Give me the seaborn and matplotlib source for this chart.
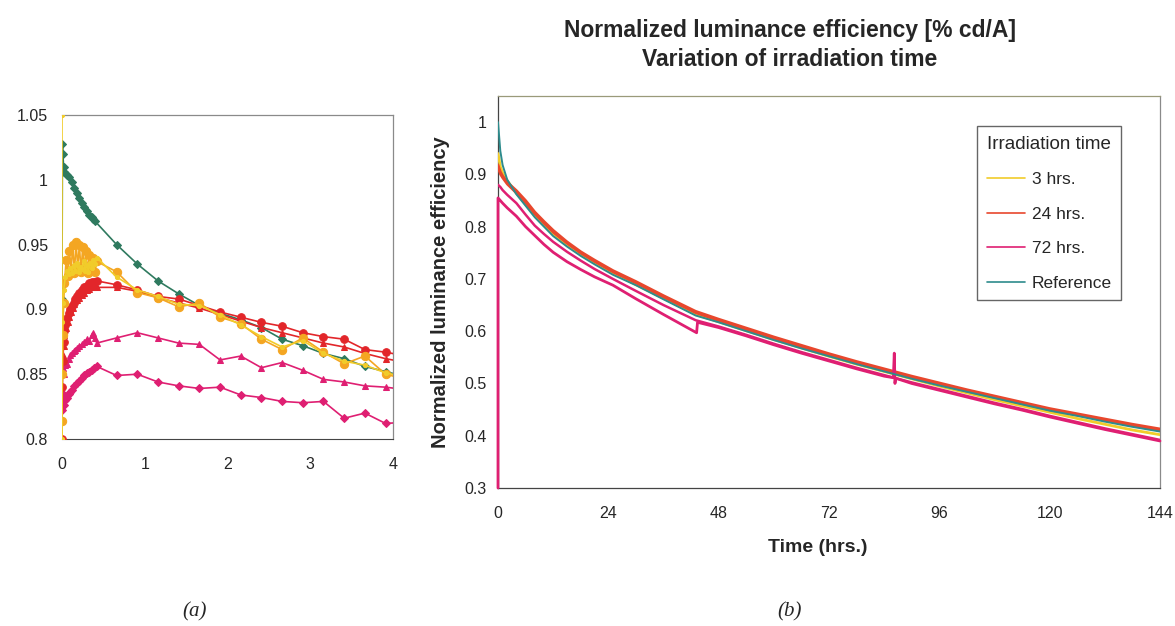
import matplotlib
matplotlib.use("Agg")
import matplotlib.pyplot as plt
import seaborn as sns
import pandas as pd
from matplotlib.ticker import FuncFormatter

sns.set_style("white")
plt.rcParams["font.family"] = ["Liberation Sans", "DejaVu Sans"]

# ---------------- Panel (a): first 4 hours ----------------
sparse_x = [0.66, 0.91, 1.16, 1.41, 1.66, 1.91, 2.16, 2.41, 2.66, 2.91, 3.16, 3.41, 3.66, 3.91, 4.16]

ref_a_x = [0, 0, 0.005, 0.01, 0.02, 0.03, 0.04, 0.06, 0.09, 0.12, 0.15, 0.18, 0.21, 0.24,
           0.27, 0.30, 0.33, 0.36, 0.38, 0.40] + sparse_x
ref_a_y = [0.861, 0.908, 1.028, 1.020, 1.010, 1.006, 1.005, 1.004, 1.002, 0.998, 0.994, 0.990,
           0.986, 0.982, 0.979, 0.976, 0.973, 0.971, 0.970, 0.968,
           0.950, 0.935, 0.922, 0.912, 0.903, 0.897, 0.892, 0.886, 0.877, 0.872, 0.866, 0.862,
           0.856, 0.852, 0.848]

h3a_x = [0, 0.005, 0.01, 0.02, 0.03, 0.05, 0.07, 0.09, 0.11, 0.13, 0.15, 0.17, 0.19, 0.21,
         0.23, 0.25, 0.27, 0.29, 0.31, 0.33, 0.35, 0.37, 0.40, 0.42] + sparse_x
h3a_y = [0.814, 0.850, 0.880, 0.905, 0.920, 0.938, 0.926, 0.945, 0.930, 0.950, 0.928, 0.952,
         0.932, 0.950, 0.929, 0.948, 0.931, 0.945, 0.928, 0.942, 0.930, 0.940, 0.929, 0.937,
         0.929, 0.913, 0.909, 0.902, 0.905, 0.894, 0.889, 0.877, 0.869, 0.878, 0.867, 0.858,
         0.864, 0.850, 0.846]

h3b_x = [0, 0, 0.005, 0.01, 0.02, 0.04, 0.06, 0.08, 0.10, 0.12, 0.14, 0.16, 0.18, 0.20, 0.22,
         0.24, 0.26, 0.28, 0.30, 0.32, 0.34, 0.36, 0.38, 0.40, 0.42] + sparse_x
h3b_y = [1.05, 0.800, 0.890, 0.905, 0.915, 0.925, 0.930, 0.927, 0.932, 0.928, 0.934, 0.930,
         0.936, 0.929, 0.933, 0.931, 0.937, 0.930, 0.934, 0.929, 0.936, 0.932, 0.938, 0.935,
         0.940,
         0.925, 0.915, 0.910, 0.904, 0.903, 0.896, 0.888, 0.879, 0.871, 0.876, 0.866, 0.860,
         0.857, 0.851, 0.848]

h24a_x = [0, 0.005, 0.01, 0.02, 0.03, 0.04, 0.06, 0.08, 0.10, 0.12, 0.14, 0.16, 0.18, 0.21,
          0.24, 0.27, 0.30, 0.33, 0.36, 0.39, 0.42] + sparse_x
h24a_y = [0.800, 0.840, 0.860, 0.875, 0.883, 0.888, 0.893, 0.897, 0.900, 0.903, 0.905, 0.908,
          0.910, 0.913, 0.915, 0.917, 0.918, 0.920, 0.921, 0.921, 0.922,
          0.919, 0.915, 0.910, 0.908, 0.903, 0.898, 0.894, 0.890, 0.887, 0.882, 0.879, 0.877,
          0.869, 0.867, 0.864]

h24b_x = [0.005, 0.01, 0.02, 0.03, 0.05, 0.07, 0.09, 0.11, 0.13, 0.15, 0.18, 0.21, 0.24, 0.27,
          0.30, 0.33, 0.36, 0.39, 0.42] + sparse_x
h24b_y = [0.850, 0.865, 0.872, 0.880, 0.886, 0.890, 0.894, 0.898, 0.901, 0.904, 0.907, 0.909,
          0.911, 0.913, 0.915, 0.916, 0.917, 0.918, 0.917,
          0.917, 0.914, 0.909, 0.905, 0.901, 0.896, 0.891, 0.886, 0.882, 0.878, 0.874, 0.871,
          0.866, 0.862, 0.859]

h72a_x = [0.005, 0.01, 0.02, 0.04, 0.06, 0.08, 0.10, 0.12, 0.14, 0.16, 0.18, 0.21, 0.24, 0.27,
          0.30, 0.33, 0.36, 0.38, 0.40, 0.42] + sparse_x
h72a_y = [0.850, 0.855, 0.850, 0.857, 0.858, 0.862, 0.865, 0.866, 0.868, 0.869, 0.870, 0.872,
          0.873, 0.875, 0.877, 0.876, 0.880, 0.882, 0.878, 0.874,
          0.878, 0.882, 0.878, 0.874, 0.873, 0.861, 0.864, 0.855, 0.859, 0.853, 0.846, 0.844,
          0.841, 0.840, 0.838]

h72b_x = [0, 0.005, 0.01, 0.02, 0.04, 0.06, 0.08, 0.10, 0.12, 0.15, 0.18, 0.21, 0.24, 0.27,
          0.30, 0.33, 0.36, 0.39, 0.42] + sparse_x
h72b_y = [0.822, 0.830, 0.835, 0.826, 0.830, 0.832, 0.835, 0.836, 0.838, 0.841, 0.843, 0.845,
          0.847, 0.849, 0.851, 0.852, 0.853, 0.855, 0.856,
          0.849, 0.850, 0.844, 0.841, 0.839, 0.840, 0.834, 0.832, 0.829, 0.828, 0.829, 0.816,
          0.820, 0.812, 0.813]

# ---------------- Panel (b): 144 hours ----------------
t_r = [0, 0.5, 1, 2, 4, 6, 8, 10, 12, 15, 18, 21, 25, 30, 36, 43, 48, 54, 60, 66, 72, 78, 84,
       90, 96, 102, 108, 114, 120, 126, 132, 138, 144]
r24a = [0.918, 0.905, 0.897, 0.885, 0.869, 0.850, 0.828, 0.810, 0.793, 0.771, 0.752, 0.736,
        0.716, 0.695, 0.668, 0.638, 0.623, 0.606, 0.589, 0.573, 0.557, 0.542, 0.528, 0.514,
        0.501, 0.488, 0.476, 0.464, 0.452, 0.442, 0.432, 0.422, 0.413]
r24b = [0.912, 0.900, 0.893, 0.881, 0.864, 0.845, 0.824, 0.806, 0.789, 0.768, 0.749, 0.733,
        0.713, 0.692, 0.665, 0.635, 0.620, 0.603, 0.586, 0.570, 0.554, 0.539, 0.525, 0.511,
        0.498, 0.485, 0.473, 0.461, 0.449, 0.439, 0.429, 0.419, 0.410]
r3 = [0.940, 0.915, 0.903, 0.888, 0.864, 0.843, 0.821, 0.803, 0.786, 0.765, 0.747, 0.731,
      0.711, 0.689, 0.663, 0.632, 0.618, 0.601, 0.584, 0.568, 0.552, 0.537, 0.523, 0.509,
      0.495, 0.482, 0.469, 0.457, 0.445, 0.433, 0.422, 0.411, 0.402]
rref = [1.000, 0.945, 0.918, 0.890, 0.862, 0.840, 0.818, 0.800, 0.782, 0.762, 0.744, 0.728,
        0.708, 0.688, 0.661, 0.630, 0.617, 0.600, 0.583, 0.567, 0.552, 0.537, 0.523, 0.509,
        0.496, 0.484, 0.472, 0.460, 0.448, 0.438, 0.427, 0.417, 0.408]
r72a = [0.880, 0.876, 0.870, 0.861, 0.845, 0.823, 0.802, 0.786, 0.771, 0.752, 0.735, 0.719,
        0.700, 0.677, 0.650, 0.621, 0.609, 0.593, 0.576, 0.560, 0.545, 0.530, 0.516, 0.502,
        0.489, 0.476, 0.463, 0.451, 0.438, 0.426, 0.414, 0.403, 0.392]
t_72b = [0, 0, 0.5, 1, 2, 4, 6, 8, 10, 12, 15, 18, 21, 25, 30, 36, 43.2, 43.4, 48, 54, 60, 66,
         72, 78, 84, 86, 86.2, 86.35, 86.5, 90, 96, 102, 108, 114, 120, 126, 132, 138, 144]
r72b = [0.300, 0.855, 0.850, 0.845, 0.836, 0.820, 0.800, 0.783, 0.766, 0.751, 0.733, 0.718,
        0.704, 0.688, 0.662, 0.632, 0.597, 0.617, 0.607, 0.591, 0.574, 0.558, 0.543, 0.528,
        0.514, 0.511, 0.558, 0.500, 0.510, 0.500, 0.487, 0.474, 0.461, 0.449, 0.436, 0.424,
        0.412, 0.401, 0.390]

legend_labels = ["3 hrs.", "24 hrs.", "72 hrs.", "Reference"]

C_REF_A = "#2f7a5f"
C_ORANGE = "#f4a622"
C_YELLOW = "#f1cc2a"
C_RED = "#e2262a"
C_PINK = "#df1f72"
C_REF_B = "#2d8b8c"
C_RED_B = "#e8472d"

W, H = 1175, 626
fig = plt.figure(figsize=(W / 100, H / 100), dpi=100)

def fig_rect(x0, y0, x1, y1):
    return [x0 / W, 1 - y1 / H, (x1 - x0) / W, (y1 - y0) / H]

axa = fig.add_axes(fig_rect(62, 115, 393, 439))
axb = fig.add_axes(fig_rect(498, 96, 1160, 488))

def draw(ax, x, y, color, marker=None, ms=0, lw=1.2, label="_nolegend_", z=2, clip=True):
    df = pd.DataFrame({"x": x, "y": y})
    kw = {}
    if marker:
        kw = dict(marker=marker, markersize=ms, markeredgecolor=color, markerfacecolor=color)
    sns.lineplot(data=df, x="x", y="y", ax=ax, sort=False, estimator=None, color=color,
                 linewidth=lw, label=label, zorder=z, **kw)
    if not clip:
        ax.lines[-1].set_clip_on(False)

# panel (a)
draw(axa, ref_a_x, ref_a_y, C_REF_A, "D", 4.0, z=2)
draw(axa, h72b_x, h72b_y, C_PINK, "D", 4.0, z=3)
draw(axa, h72a_x, h72a_y, C_PINK, "^", 5.0, z=3)
draw(axa, h24b_x, h24b_y, C_RED, "^", 5.0, z=4)
draw(axa, h24a_x, h24a_y, C_RED, "o", 5.5, z=4)
draw(axa, h3a_x, h3a_y, C_ORANGE, "o", 6.0, z=5)
draw(axa, h3b_x, h3b_y, C_YELLOW, "o", 3.0, lw=1.2, z=6)

axa.set_xlim(0, 4)
axa.set_ylim(0.8, 1.05)
axa.set_xticks([0, 1, 2, 3, 4])
axa.set_yticks([0.8, 0.85, 0.9, 0.95, 1.0, 1.05])
fmt = FuncFormatter(lambda v, p: f"{v:g}")
axa.yaxis.set_major_formatter(fmt)
axa.set_xlabel("")
axa.set_ylabel("")
axa.tick_params(axis="x", direction="in", length=3, pad=13, labelsize=11.5, color="#555")
axa.tick_params(axis="y", length=0, pad=10, labelsize=11.5)
for s in ["top", "right"]:
    axa.spines[s].set_color("#8a8a8a")
    axa.spines[s].set_linewidth(0.9)
axa.spines["bottom"].set_color("#444")
axa.spines["left"].set_visible(False)
if axa.get_legend():
    axa.get_legend().remove()

# panel (b)
draw(axb, t_r, r3, C_YELLOW, lw=2.0, label=legend_labels[0], z=3)
draw(axb, t_r, r24a, C_RED_B, lw=2.0, label=legend_labels[1], z=4)
draw(axb, t_r, r24b, C_RED_B, lw=1.6, z=4)
draw(axb, t_72b, r72b, C_PINK, lw=2.0, label=legend_labels[2], z=5, clip=False)
draw(axb, t_r, r72a, C_PINK, lw=1.8, z=5)
draw(axb, t_r, rref, C_REF_B, lw=1.4, label=legend_labels[3], z=6)

axb.set_xlim(0, 144)
axb.set_ylim(0.3, 1.05)
axb.set_xticks([0, 24, 48, 72, 96, 120, 144])
axb.set_yticks([0.3, 0.4, 0.5, 0.6, 0.7, 0.8, 0.9, 1.0])
axb.yaxis.set_major_formatter(fmt)
axb.tick_params(axis="x", direction="out", length=3, pad=10, labelsize=11.5, color="#555")
axb.tick_params(axis="y", direction="out", length=4, pad=4, labelsize=11.5, color="#555")
axb.set_xlabel("Time (hrs.)", fontsize=14, fontweight="bold")
axb.xaxis.set_label_coords((818 - 498) / 662, -(548 - 488) / 392)
axb.xaxis.label.set_va("center")
axb.set_ylabel("Normalized luminance efficiency", fontsize=14.5, fontweight="bold")
axb.yaxis.set_label_coords(-(498 - 441) / 662, 0.5)
axb.yaxis.label.set_va("center")
axb.spines["top"].set_color("#9a9a7a")
axb.spines["right"].set_color("#8a8a8a")
axb.spines["left"].set_color("#444")
axb.spines["bottom"].set_color("#444")
for s in axb.spines.values():
    s.set_linewidth(0.9)

handles, labels = axb.get_legend_handles_labels()
leg = axb.legend(handles, labels, title="Irradiation time", loc="upper left",
                 bbox_to_anchor=(977 / W, 1 - 126 / H), bbox_transform=fig.transFigure,
                 fontsize=12.5, title_fontsize=13.5, frameon=True, fancybox=False,
                 edgecolor="#666", framealpha=1, handlelength=2.2, labelspacing=1.12,
                 borderpad=0.55, handletextpad=0.4, borderaxespad=0)
leg.get_frame().set_linewidth(1.0)
for line in leg.get_lines():
    line.set_linewidth(1.2)

fig.text(790 / W, 1 - 45 / H, "Normalized luminance efficiency [% cd/A]\nVariation of irradiation time",
         ha="center", va="center", fontsize=16.5, fontweight="bold", linespacing=1.35)

fig.text(195 / W, 1 - 612 / H, "(a)", ha="center", va="center", fontsize=15,
         family=["Liberation Serif", "DejaVu Serif"], style="italic")
fig.text(790 / W, 1 - 612 / H, "(b)", ha="center", va="center", fontsize=15,
         family=["Liberation Serif", "DejaVu Serif"], style="italic")

fig.savefig("out.png", dpi=100)
